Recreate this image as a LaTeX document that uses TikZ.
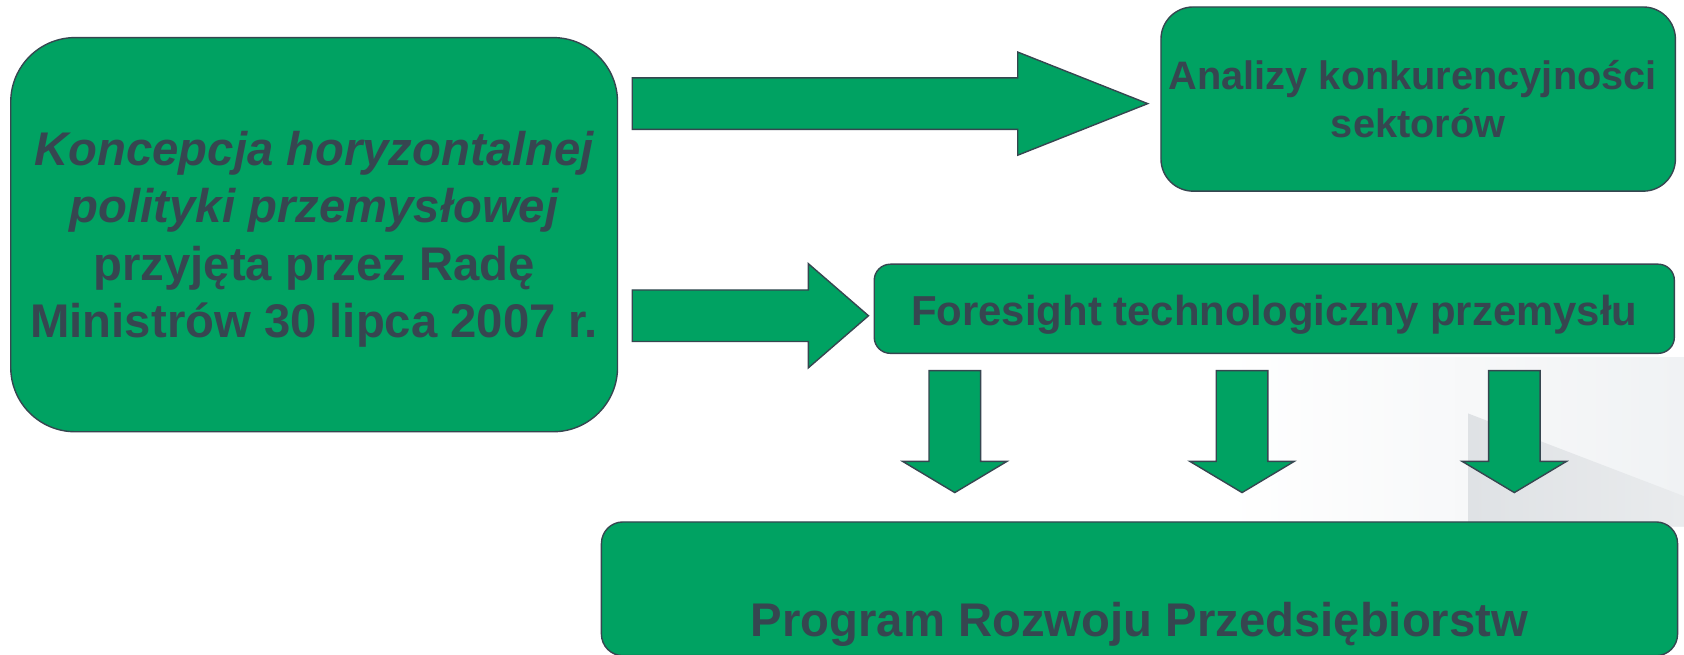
\documentclass[tikz,border=0pt]{standalone}
\usepackage{fontspec}
\setmainfont{Liberation Sans}
\usetikzlibrary{calc}
\definecolor{boxgreen}{RGB}{0,162,98}
\definecolor{ink}{RGB}{54,70,80}
\definecolor{bgA}{RGB}{240,242,244}
\definecolor{bgB}{RGB}{223,226,229}
\definecolor{bgC}{RGB}{233,235,237}
\tikzset{
  box/.style={draw=ink, fill=boxgreen, line width=1.3pt, text=ink, inner sep=0pt},
  txt/.style={text=ink, inner sep=0pt, align=center},
  barrow/.style={draw=ink, fill=boxgreen, line width=1.3pt, line join=miter},
}
\begin{document}
\begin{tikzpicture}[x=1pt, y=-1pt]
\useasboundingbox (0,0) rectangle (1568,609);
\clip (0,0) rectangle (1568,609);
\fill[white] (0,0) rectangle (1568,609);
% faint background planes
\shade[left color=white, right color=bgA] (1140,333) rectangle (1568,490);
\shade[left color=bgB, right color=bgC] (1367,385) -- (1568,462) -- (1568,490) -- (1367,490) -- cycle;

% boxes
\node[box, rounded corners=60pt, minimum width=565pt, minimum height=367pt] (kon) at (292.5,218.5) {};
\node[txt, font=\fontsize{44}{53.5}\selectfont\bfseries] (kontxt) at ($(kon.center)+(0,4.5)$)
  {\itshape Koncepcja horyzontalnej\\ \itshape polityki przemysłowej\hspace*{12pt}\\ przyjęta przez Radę\\ Ministrów 30 lipca 2007 r.};

\node[box, rounded corners=30pt, minimum width=479pt, minimum height=171.5pt, align=center,
      font=\fontsize{37}{45}\selectfont\bfseries] (ana) at (1320.5,92.25)
  {Analizy konkurencyjności\hspace*{10pt}\\ sektorów};

\node[box, rounded corners=15pt, minimum width=745pt, minimum height=83pt,
      text height=30.8pt, text depth=0pt, font=\fontsize{39}{47}\selectfont\bfseries] (fores) at (1186.5,287.5)
  {Foresight technologiczny przemysłu};

\node[box, rounded corners=20pt, minimum width=1002pt, minimum height=124.5pt,
      text height=89.5pt, text depth=0pt, font=\fontsize{44}{53}\selectfont\bfseries] (prog) at (1061,548.25)
  {Program Rozwoju Przedsiębiorstw};

% block arrows (connectors)
\coordinate (r1) at ($(kon.east)+(13,-122)$);
\coordinate (r2) at ($(kon.east)+(13,75.5)$);
\draw[barrow] (r1) ++(0,-24) -- ++(359,0) -- ++(0,-24) -- ++(121,48) -- ++(-121,48) -- ++(0,-24) -- ++(-359,0) -- cycle;
\draw[barrow] (r2) ++(0,-24) -- ++(164,0) -- ++(0,-24.5) -- ++(56,48.5) -- ++(-56,48.5) -- ++(0,-24.5) -- ++(-164,0) -- cycle;

\coordinate (d1) at ($(fores.south)+(-297.5,15.5)$);
\coordinate (d2) at ($(fores.south)+(-30,15.5)$);
\coordinate (d3) at ($(fores.south)+(223.5,15.5)$);
\foreach \d in {d1,d2,d3}{
  \draw[barrow] (\d) ++(-24,0) -- ++(0,84.5) -- ++(-24.5,0) -- ++(48.5,29) -- ++(48.5,-29) -- ++(-24.5,0) -- ++(0,-84.5) -- cycle;
}
\end{tikzpicture}
\end{document}
